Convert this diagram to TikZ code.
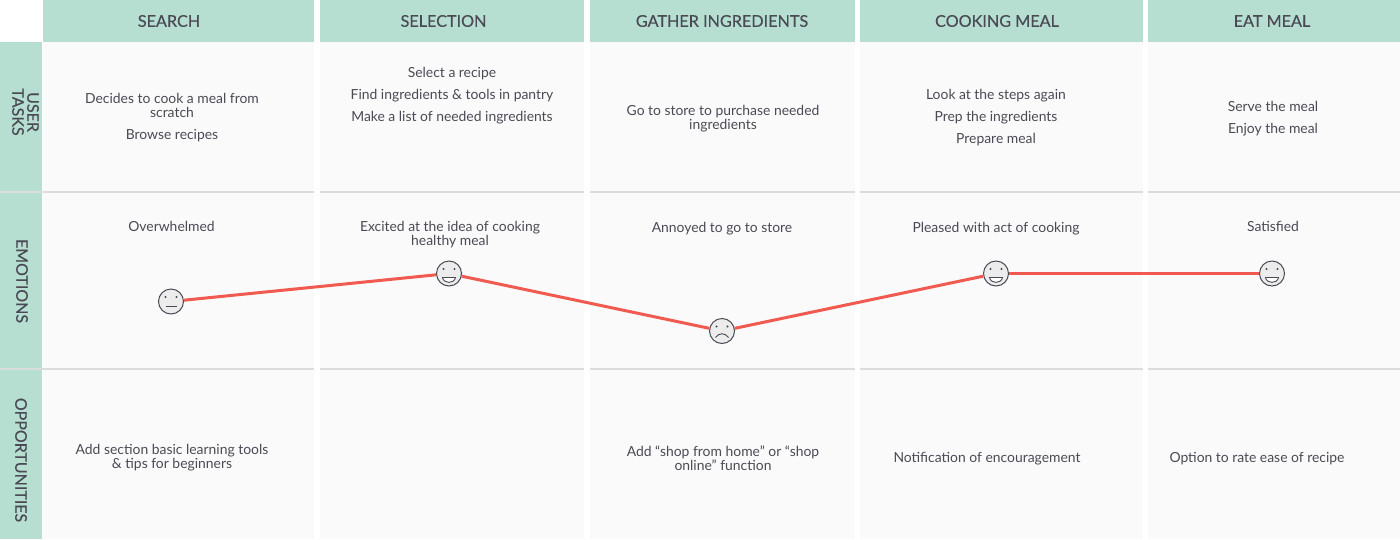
\documentclass[tikz,border=0pt]{standalone}
\usepackage{fontspec}
\setmainfont{Lato}
\newfontfamily\headfont[FakeBold=0.35]{Lato}
\definecolor{mint}{HTML}{B6DFD1}
\definecolor{cellbg}{HTML}{FAFAFA}
\definecolor{rowline}{HTML}{DCDCDC}
\definecolor{ink}{HTML}{4A4A55}
\definecolor{moodred}{HTML}{F05A50}
\definecolor{facebg}{HTML}{ECECEC}
\tikzset{
  band/.style={fill=mint,inner sep=0pt},
  cell/.style={fill=cellbg,inner sep=0pt},
  rowrule/.style={draw=rowline,line width=2pt},
  head/.style={text=ink,font=\headfont\fontsize{16.2}{16}\selectfont},
  side/.style={text=ink,font=\headfont\fontsize{16}{15}\selectfont,rotate=-90,align=center},
  txt/.style={text=ink,font=\fontsize{13.9}{14}\selectfont,align=center},
  face/.style={circle,draw=ink,fill=facebg,line width=1pt,minimum size=25pt,inner sep=0pt},
  mood/.style={draw=moodred,line width=3pt},
  eyes/.pic={\fill[ink] (-5.5,-4.5) circle (1.2pt) (5.5,-4.5) circle (1.2pt);},
  smile/.pic={\draw[ink,line width=.9pt,fill=white] (-6.5,4) -- (6.5,4) .. controls (5.5,10.5) and (-5.5,10.5) .. (-6.5,4) -- cycle;},
  frown/.pic={\draw[ink,line width=.9pt] (-6.5,6.5) .. controls (-3,1.5) and (3,1.5) .. (6.5,6.5);},
  flat/.pic={\draw[ink,line width=.9pt] (-5.5,5.3) -- (5.5,5.3);}
}
\begin{document}
\begin{tikzpicture}[x=1pt,y=-1pt]
\useasboundingbox (0,0) rectangle (1400,539);
% header row
\node[band,minimum width=271pt,minimum height=42pt] (h1) at (178.5,21) {};
\node[band,minimum width=264pt,minimum height=42pt] (h2) at (452,21) {};
\node[band,minimum width=265pt,minimum height=42pt] (h3) at (722.5,21) {};
\node[band,minimum width=283pt,minimum height=42pt] (h4) at (1001.5,21) {};
\node[band,minimum width=252pt,minimum height=42pt] (h5) at (1274,21) {};
\node[head] (search) at (169,21) {SEARCH};
\node[head] (selection) at (443.5,21) {SELECTION};
\node[head] (gather) at (722,21) {GATHER INGREDIENTS};
\node[head] (cooking) at (997,21) {COOKING MEAL};
\node[head] (eat) at (1272,21) {EAT MEAL};
% cells
\node[cell,minimum width=271pt,minimum height=150pt] (t1) at (178.5,117) {};
\node[cell,minimum width=264pt,minimum height=150pt] (t2) at (452,117) {};
\node[cell,minimum width=265pt,minimum height=150pt] (t3) at (722.5,117) {};
\node[cell,minimum width=283pt,minimum height=150pt] (t4) at (1001.5,117) {};
\node[cell,minimum width=252pt,minimum height=150pt] (t5) at (1274,117) {};
\node[cell,minimum width=271pt,minimum height=177pt] (e1) at (178.5,280.5) {};
\node[cell,minimum width=264pt,minimum height=177pt] (e2) at (452,280.5) {};
\node[cell,minimum width=265pt,minimum height=177pt] (e3) at (722.5,280.5) {};
\node[cell,minimum width=283pt,minimum height=177pt] (e4) at (1001.5,280.5) {};
\node[cell,minimum width=252pt,minimum height=177pt] (e5) at (1274,280.5) {};
\node[cell,minimum width=271pt,minimum height=170pt] (o1) at (178.5,454) {};
\node[cell,minimum width=264pt,minimum height=170pt] (o2) at (452,454) {};
\node[cell,minimum width=265pt,minimum height=170pt] (o3) at (722.5,454) {};
\node[cell,minimum width=283pt,minimum height=170pt] (o4) at (1001.5,454) {};
\node[cell,minimum width=252pt,minimum height=170pt] (o5) at (1274,454) {};
% left band
\node[band,minimum width=42pt,minimum height=150pt] (l1) at (21,117) {};
\node[band,minimum width=42pt,minimum height=177pt] (l2) at (21,280.5) {};
\node[band,minimum width=42pt,minimum height=170pt] (l3) at (21,454) {};
\node[side] (usertasks) at (25.5,112) {USER\\TASKS};
\node[side] (emotions) at (22,281) {EMOTIONS};
\node[side] (opportunities) at (21,460) {OPPORTUNITIES};
% row rules
\draw[rowrule] (l1.south west) -- (t1.south east);
\draw[rowrule] (t2.south west) -- (t2.south east);
\draw[rowrule] (t3.south west) -- (t3.south east);
\draw[rowrule] (t4.south west) -- (t4.south east);
\draw[rowrule] (t5.south west) -- (t5.south east);
\draw[rowrule] (l2.south west) -- (e1.south east);
\draw[rowrule] (e2.south west) -- (e2.south east);
\draw[rowrule] (e3.south west) -- (e3.south east);
\draw[rowrule] (e4.south west) -- (e4.south east);
\draw[rowrule] (e5.south west) -- (e5.south east);
% user tasks
\node[txt] (task1) at (172,117.5) {Decides to cook a meal from\\scratch\\[8pt]Browse recipes};
\node[txt] (task2) at (452,95.5) {Select a recipe\\[8pt]Find ingredients \& tools in pantry\\[8pt]Make a list of needed ingredients};
\node[txt] (task3) at (723,118.5) {Go to store to purchase needed\\ingredients};
\node[txt] (task4) at (996,117.5) {Look at the steps again\\[8pt]Prep the ingredients\\[8pt]Prepare meal};
\node[txt] (task5) at (1273,118.5) {Serve the meal\\[8pt]Enjoy the meal};
% emotions
\node[txt] (emo1) at (171.5,226.5) {Overwhelmed};
\node[txt] (emo2) at (450,235) {Excited at the idea of cooking\\healthy meal};
\node[txt] (emo3) at (722,228.5) {Annoyed to go to store};
\node[txt] (emo4) at (996,228.5) {Pleased with act of cooking};
\node[txt] (emo5) at (1273,226.5) {Satisfied};
% opportunities
\node[txt] (opp1) at (172,458) {Add section basic learning tools\\\& tips for beginners};
\node[txt] (opp3) at (723,458) {Add “shop from home” or “shop\\online” function};
\node[txt] (opp4) at (987,458.5) {Notification of encouragement};
\node[txt] (opp5) at (1257,458.5) {Option to rate ease of recipe};
% faces
\node[face] (f1) at (171,301.5) {};
\node[face] (f2) at (449,273.5) {};
\node[face] (f3) at (722,331) {};
\node[face] (f4) at (996,273.5) {};
\node[face] (f5) at (1272,273.5) {};
\draw[mood] (f1) -- (f2);
\draw[mood] (f2) -- (f3);
\draw[mood] (f3) -- (f4);
\draw[mood] (f4) -- (f5);
\pic at (f1) {eyes};
\pic at (f2) {eyes};
\pic at (f3) {eyes};
\pic at (f4) {eyes};
\pic at (f5) {eyes};
\pic at (f1) {flat};
\pic at (f2) {smile};
\pic at (f3) {frown};
\pic at (f4) {smile};
\pic at (f5) {smile};
\end{tikzpicture}
\end{document}
